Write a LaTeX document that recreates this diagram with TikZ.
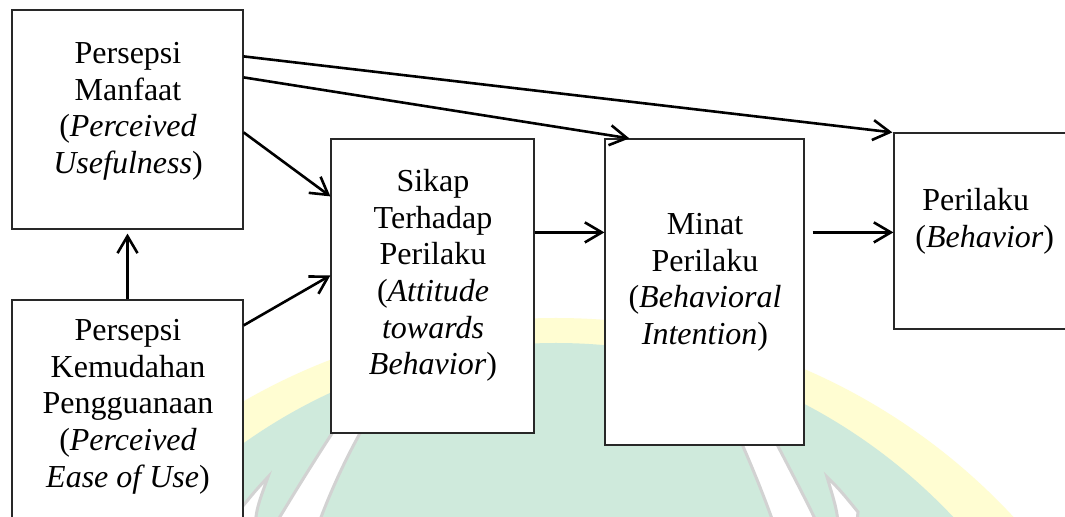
\documentclass[tikz,border=0pt]{standalone}
\usepackage{fontspec}
\setmainfont{Liberation Serif}
\usetikzlibrary{arrows.meta,fit,calc}
\definecolor{wmy}{RGB}{255,253,210}
\definecolor{wmg}{RGB}{207,234,220}
\definecolor{wmgray}{RGB}{210,210,210}
\definecolor{boxline}{RGB}{40,40,40}
\tikzset{
  boxst/.style={draw=boxline, line width=0.6pt, fill=white, inner sep=0pt, rectangle},
  arr/.style={line width=1.3pt, -{Straight Barb[length=8.5pt,width=10pt]}},
  txt/.style={inner sep=0pt, align=center, anchor=north, font=\fontsize{16pt}{18.35pt}\selectfont},
  wmband/.style={fill=white, draw=wmgray, line width=1.5pt},
}
\begin{document}
\begin{tikzpicture}[x=0.5pt,y=-0.5pt]
\useasboundingbox (0,0) rectangle (1065,517);
\fill[white] (0,0) rectangle (1065,517);
\clip (0,0) rectangle (1065,517);
% watermark
\fill[wmy] (556,930) ellipse [x radius=620, y radius=612];
\fill[wmg] (556,930) ellipse [x radius=559, y radius=587];
\filldraw[wmband] (263,545) .. controls (290,500) and (315,458) .. (364,385) -- (389,385) .. controls (350,445) and (328,495) .. (311,545) -- cycle;
\filldraw[wmband] (827,545) .. controls (812,510) and (790,470) .. (754,400) -- (722,400) .. controls (748,455) and (768,505) .. (781,545) -- cycle;
\filldraw[wmband] (268,477) .. controls (256,490) .. (238,512) -- (240,540) -- (254,540) .. controls (256,510) .. (268,477) -- cycle;
\filldraw[wmband] (827,477) .. controls (840,490) .. (858,512) -- (855,540) -- (840,540) .. controls (837,510) .. (827,477) -- cycle;
% boxes
\node[boxst, fit={(12,10) (243,229)}] (b1) {};
\node[boxst, fit={(12,300) (243,540)}] (b2) {};
\node[boxst, fit={(331,139) (534,433)}] (b3) {};
\node[boxst, fit={(605,139) (804,445)}] (b4) {};
\node[boxst, fit={(894,133) (1090,329)}] (b5) {};
% texts
\node[txt] (t1) at (128,37.3) {\strut Persepsi\\\strut Manfaat\\\strut(\textit{Perceived}\\\strut\textit{Usefulness})};
\node[txt] (t2) at (128,314.3) {\strut Persepsi\\\strut Kemudahan\\\strut Pengguanaan\\\strut(\textit{Perceived}\\\strut\textit{Ease of Use})};
\node[txt] (t3) at (433,165.3) {\strut Sikap\\\strut Terhadap\\\strut Perilaku\\\strut(\textit{Attitude}\\\strut\textit{towards}\\\strut\textit{Behavior})};
\node[txt] (t4) at (705,208.3) {\strut Minat\\\strut Perilaku\\\strut(\textit{Behavioral}\\\strut\textit{Intention})};
\node[txt, align=left, anchor=north west] (t5) at (915,184.3) {\strut\hspace*{3.5pt}Perilaku\\\strut(\textit{Behavior})};
% connectors
\draw[arr, shorten >=2pt] (b2.north) -- (b1.south);
\draw[arr] ($(b1.north east)+(0,123)$) -- ($(b3.north west)+(0,58)$);
\draw[arr] ($(b2.north east)+(0,26)$) -- ($(b3.north west)+(0,137)$);
\draw[arr] ($(b1.north east)+(0,68)$) -- ($(b4.north west)+(25,0)$);
\draw[arr] ($(b1.north east)+(0,47)$) -- ($(b5.north west)+(-1,0)$);
\draw[arr] ($(b3.north east)+(0,94)$) -- ($(b4.north west)+(0,94)$);
\draw[arr] ($(b4.north east)+(8,94)$) -- ($(b5.north west)+(0,100)$);
\end{tikzpicture}
\end{document}
